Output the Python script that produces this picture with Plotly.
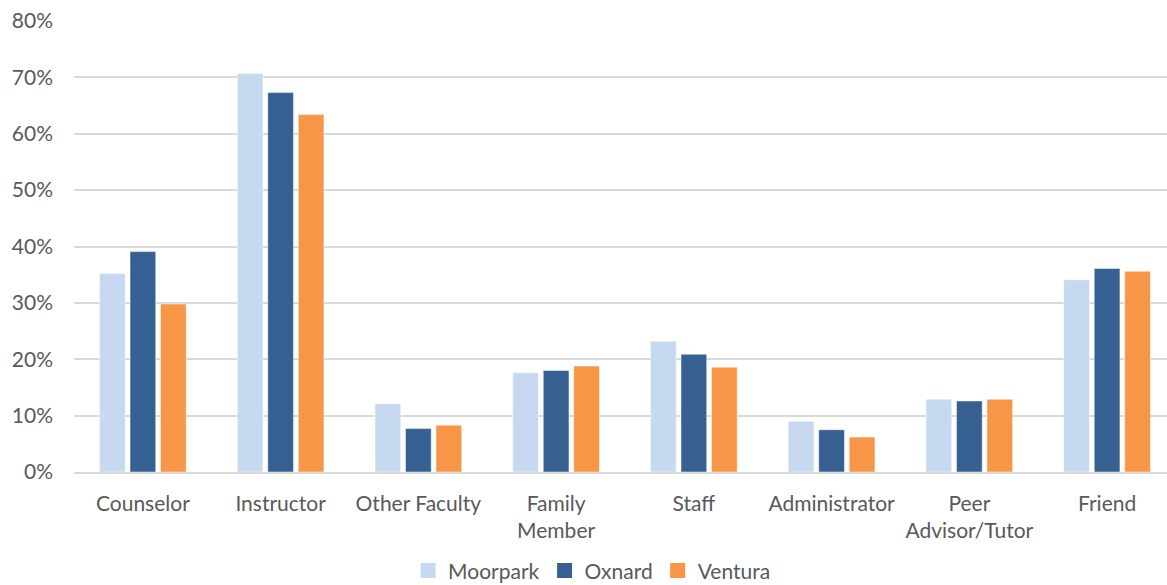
import plotly.graph_objects as go

categories = ["Counselor", "Instructor", "Other Faculty", "Family<br>Member", "Staff",
              "Administrator", "Peer<br>Advisor/Tutor", "Friend"]
moorpark = [0.352, 0.707, 0.121, 0.176, 0.232, 0.090, 0.129, 0.341]
oxnard = [0.391, 0.673, 0.077, 0.180, 0.209, 0.075, 0.126, 0.361]
ventura = [0.298, 0.634, 0.083, 0.188, 0.186, 0.062, 0.129, 0.356]
y_ticks = [0, 0.1, 0.2, 0.3, 0.4, 0.5, 0.6, 0.7, 0.8]

FONT = "Lato"
TXT = "#595959"
SIZE = 21

fig = go.Figure()
series = [("Moorpark", moorpark, "#C6D9F1"),
          ("Oxnard", oxnard, "#376092"),
          ("Ventura", ventura, "#F79646")]
for name, vals, col in series:
    fig.add_trace(go.Bar(name=name, x=list(range(len(categories))), y=vals, showlegend=False,
                         marker=dict(color=col, line=dict(color="rgba(255,255,255,0.6)", width=0.8))))
for name, vals, col in series:
    fig.add_trace(go.Scatter(name=name, x=[None], y=[None], mode="markers",
                             marker=dict(symbol="square", size=15, color=col), showlegend=True))

fig.update_layout(
    width=1167, height=585,
    margin=dict(l=74, r=0, t=21, b=113, autoexpand=False),
    paper_bgcolor="white", plot_bgcolor="white",
    barmode="group", bargap=0.336, bargroupgap=0.157,
    font=dict(family=FONT, size=SIZE, color=TXT),
    showlegend=True,
    legend=dict(orientation="h", x=0.474, xanchor="center", y=-0.219, yanchor="middle",
                font=dict(family=FONT, size=SIZE, color=TXT), itemwidth=30,
                tracegroupgap=0, bgcolor="rgba(0,0,0,0)"),
    xaxis=dict(tickmode="array", tickvals=list(range(len(categories))), ticktext=categories,
               range=[-0.5, 7.435], showgrid=False, zeroline=False,
               showline=True, linecolor="#D9D9D9", linewidth=1.5, ticks="",
               tickfont=dict(family=FONT, size=SIZE, color=TXT), ticklabelstandoff=12),
    yaxis=dict(range=[0, 0.8], tickvals=y_ticks, tickformat=".0%",
               showgrid=True, gridcolor="#D9D9D9", gridwidth=1.5, zeroline=False,
               showline=False, ticks="", tickfont=dict(family=FONT, size=SIZE, color=TXT),
               ticklabelstandoff=20),
)
fig.write_html("out.html")
